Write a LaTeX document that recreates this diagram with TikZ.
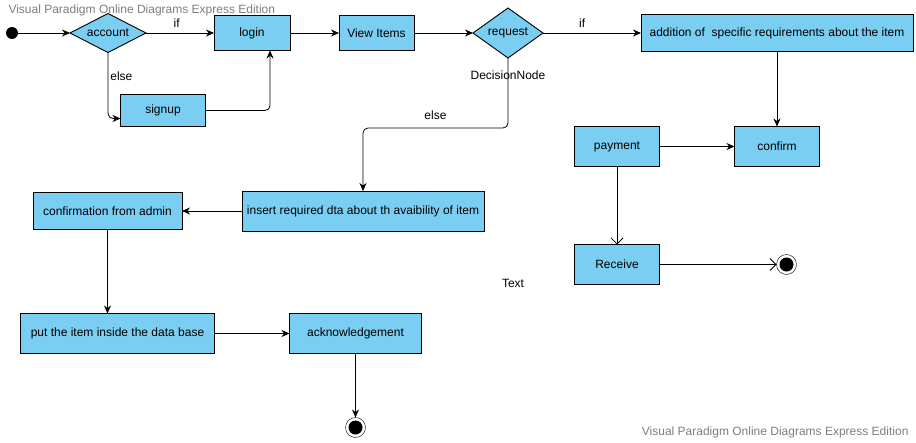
\documentclass[tikz,border=0pt]{standalone}
\usepackage{fontspec}
\setmainfont{Liberation Sans}
\usetikzlibrary{%
  positioning
 ,arrows.meta
 ,shapes.geometric
}
\definecolor{actblue}{RGB}{122,206,242}
\definecolor{wmgray}{RGB}{125,125,125}
\tikzstyle{act}=[rectangle,draw=black,fill=actblue,line width=0.9pt,outer sep=0pt,
  inner sep=2pt,minimum height=40pt,font=\fontsize{12}{14}\selectfont]
\tikzstyle{fin}=[circle,draw=black,fill=white,minimum size=20pt,inner sep=0pt,outer sep=0pt,
  path picture={\fill[black] (path picture bounding box.center) circle (7pt);}]

\begin{document}
\begin{tikzpicture}[x=1pt,y=1pt]
    \tikzstyle{dec}=[diamond,draw=black,fill=actblue,line width=0.9pt,outer sep=0pt,
      inner sep=0pt,font=\fontsize{12}{14}\selectfont]
    \useasboundingbox (0,0) rectangle (916,-442);
    \node[circle,fill=black,minimum size=12pt,inner sep=0pt,outer sep=0pt](start) at (12,-33){};
    \node[dec,aspect=2,minimum width=76pt,minimum height=39pt,right=52pt of start](account){account};
    \node[act,minimum width=76pt,minimum height=35pt,right=68pt of account](login){login};
    \node[act,minimum width=75pt,minimum height=35pt,right=49pt of login](view){View Items};
    \node[dec,aspect=1.4,minimum width=70pt,minimum height=50pt,right=59pt of view](request){request};
    \node[act,minimum width=272pt,minimum height=37pt,right=98pt of request](addition){addition of \ specific requirements about the item};
    \node[act,minimum width=85pt,minimum height=32pt,below=42pt of account,xshift=55pt](signup){signup};
    \node[font=\fontsize{12}{14}\selectfont,below=9pt of request](decname){DecisionNode};
    %
    \node[act,minimum width=85pt,below=75pt of addition](confirm){confirm};
    \node[act,minimum width=85pt,left=75pt of confirm](payment){payment};
    \node[act,minimum width=85pt,below=78pt of payment](receive){Receive};
    \node[fin,right=117pt of receive](stopR){};
    %
    \node[act,minimum width=242pt,below=133pt of request,xshift=-145pt](insert){insert required dta about th avaibility of item};
    \node[act,minimum width=149pt,minimum height=37pt,left=60pt of insert](admin){confirmation from admin};
    \node[act,minimum width=194pt,below=84pt of admin,xshift=10pt](put){put the item inside the data base};
    \node[act,minimum width=132pt,right=75pt of put](ack){acknowledgement};
    \node[fin,below=64pt of ack](stopA){};
    \node[font=\fontsize{12}{14}\selectfont](txt) at (513,-283){Text};
    %
    \coordinate[below=70pt of request](turn);

    \tikzstyle{arr}=[-{Stealth[length=8pt,width=7pt]},line width=0.8pt,
                     font=\fontsize{12}{14}\selectfont,inner sep=2pt,rounded corners=5pt]
    \tikzstyle{opn}=[-{Straight Barb[length=6pt,width=12pt]},line width=0.8pt]
    \draw[arr]
      (start) edge (account)
      (account) edge node[above=3pt,pos=0.45]{if} (login)
      (login) edge (view)
      (view) edge (request)
      (request) edge node[above=3pt,pos=0.4]{if} (addition)
      (addition) edge (confirm)
      (payment) edge (confirm)
      (insert) edge (admin)
      (put) edge (ack)
      (ack) edge (stopA);
    \draw[arr] (account) |- node[right,pos=0.18]{else} ([yshift=-8pt]signup.west);
    \draw[arr] (signup) -| ([xshift=18pt]login.south);
    \draw[arr] (request) -- (turn) -| node[above=6pt,pos=0.25]{else} (insert);
    \draw[arr] (admin) -- (admin.south|-put.north);
    \draw[opn] (payment) -- (receive);
    \draw[opn] (receive) -- (stopR);
    % watermarks
    \node[anchor=west,text=wmgray,font=\fontsize{12}{14}\selectfont](wmtop) at (5,-10){Visual Paradigm Online Diagrams Express Edition};
    \node[anchor=east,text=wmgray,font=\fontsize{12}{14}\selectfont](wmbot) at (912,-432){Visual Paradigm Online Diagrams Express Edition};
  \end{tikzpicture}
\end{document}
